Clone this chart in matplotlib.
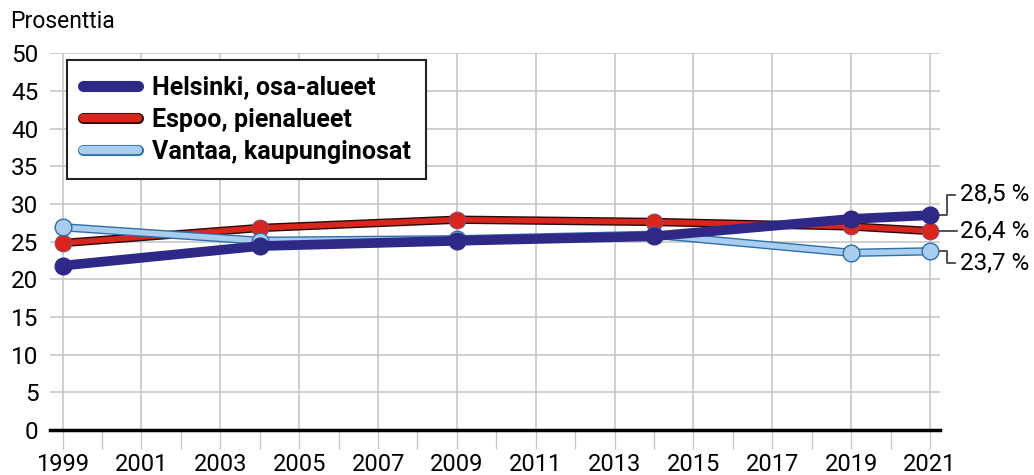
import matplotlib
matplotlib.use("Agg")
import matplotlib.pyplot as plt
import matplotlib.patheffects as pe
from matplotlib.lines import Line2D

years = [1999, 2004, 2009, 2014, 2019, 2021]
helsinki = [21.8, 24.4, 25.1, 25.7, 28.0, 28.5]
espoo = [24.8, 26.8, 27.9, 27.6, 27.0, 26.4]
vantaa = [26.9, 25.1, 25.3, 25.9, 23.5, 23.7]
labels = ["Helsinki, osa-alueet", "Espoo, pienalueet", "Vantaa, kaupunginosat"]
end_labels = ["28,5 %", "26,4 %", "23,7 %"]
label_y = [31.2, 26.4, 22.1]

navy = "#2e2886"
red = "#d9261c"
light = "#a9cdee"
blue_edge = "#2f6ea8"

plt.rcParams["font.family"] = ["Roboto", "DejaVu Sans"]

fig = plt.figure(figsize=(10.34, 4.75), dpi=100)
ax = fig.add_axes([0.048, 0.095, 0.861, 0.793])

# Espoo: red with dark outline
ax.plot(years, espoo, color=red, lw=4, solid_capstyle="round", zorder=3,
        path_effects=[pe.Stroke(linewidth=6, foreground="#2a0a08"), pe.Normal()])
ax.plot(years, espoo, ls="none", marker="o", ms=12, mfc=red, mec="#8a4a6a",
        mew=0.8, zorder=3.1)
# Vantaa: light blue with blue outline
ax.plot(years, vantaa, color=light, lw=4, solid_capstyle="round", zorder=4,
        path_effects=[pe.Stroke(linewidth=6, foreground=blue_edge), pe.Normal()])
ax.plot(years, vantaa, ls="none", marker="o", ms=12, mfc=light, mec=blue_edge,
        mew=1.0, zorder=4.1)
# Helsinki: thick navy
ax.plot(years, helsinki, color=navy, lw=7, solid_capstyle="round", zorder=5,
        marker="o", ms=12, mfc=navy, mec=navy)

ax.set_xlim(1998.67, 2021.25)
ax.set_ylim(0, 50)
ax.set_yticks(range(0, 51, 5))
ax.set_xticks(range(1999, 2022, 2))
ax.set_xticks(range(1999, 2022, 1), minor=True)
ax.grid(True, which="major", color="#c8c8c8", lw=1.2)
ax.set_axisbelow(True)
for s in ax.spines.values():
    s.set_visible(False)
ax.axhline(0, color="black", lw=2.5, zorder=6, clip_on=False)

ax.tick_params(axis="y", length=0, pad=8, labelsize=17.5)
ax.tick_params(axis="x", which="both", length=14, color="#c8c8c8", width=1.0,
               labelsize=17, pad=3)

# end labels with connectors
series = [helsinki, espoo, vantaa]
for vals, txt, ty in zip(series, end_labels, label_y):
    y0 = vals[-1]
    if abs(ty - y0) < 0.3:
        ax.plot([2021, 2021.68], [y0, y0], color="#333333", lw=1.2,
                clip_on=False, zorder=2)
        ty = y0
    else:
        ax.plot([2021, 2021.43, 2021.43, 2021.63], [y0, y0, ty, ty],
                color="#333333", lw=1.2, clip_on=False, zorder=2)
    ax.text(2021.75, ty, txt, fontsize=17.5, va="center", ha="left")

handles = [
    Line2D([], [], color=navy, lw=8, solid_capstyle="round"),
    Line2D([], [], color=red, lw=6, solid_capstyle="round",
           path_effects=[pe.Stroke(linewidth=8, foreground="#2a0a08"), pe.Normal()]),
    Line2D([], [], color=light, lw=6, solid_capstyle="round",
           path_effects=[pe.Stroke(linewidth=8, foreground=blue_edge), pe.Normal()]),
]
leg = ax.legend(handles, labels, loc="upper left", bbox_to_anchor=(0.02, 0.982),
                borderaxespad=0, fancybox=False, framealpha=1, edgecolor="#222222",
                prop={"weight": "bold", "size": 18}, handlelength=2.2,
                handletextpad=0.55, labelspacing=0.33, borderpad=0.62)
leg.get_frame().set_linewidth(1.5)
leg.set_zorder(10)

fig.text(0.01, 0.955, "Prosenttia", fontsize=16.5, va="center", ha="left")

fig.savefig("out.png", dpi=100)
